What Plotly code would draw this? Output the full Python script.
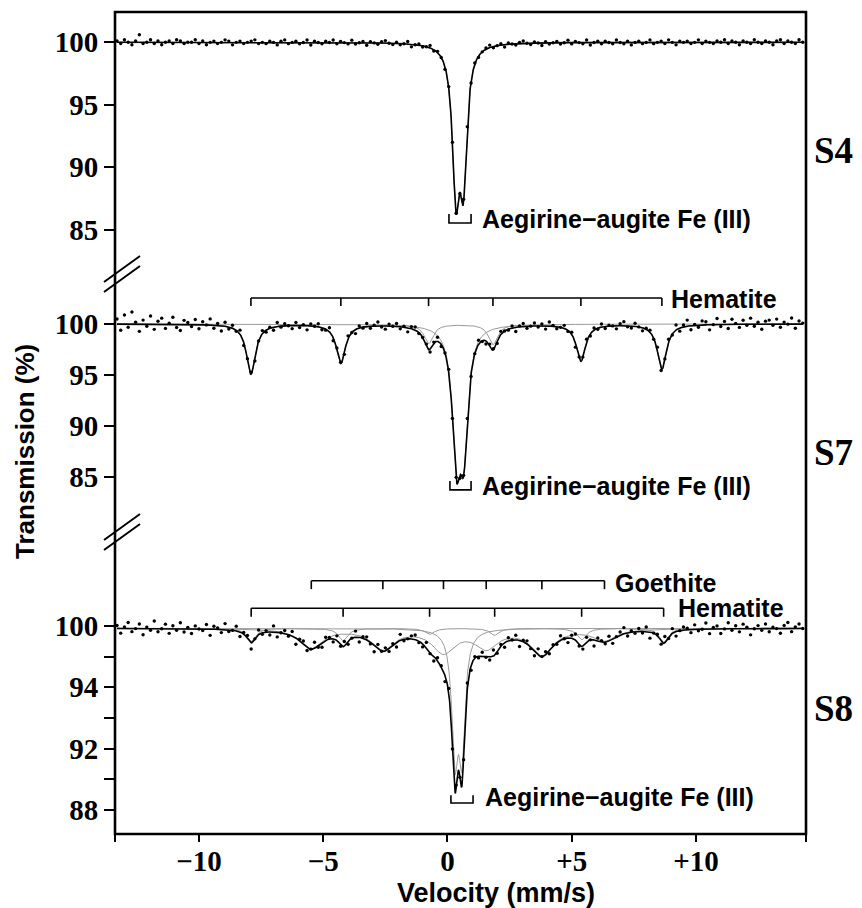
import numpy as np
import plotly.graph_objects as go

# ---------------- data ----------------
velocity_span = [-13.3, 14.3]   # mm/s, folded channel velocities

# S4 : Aegirine-augite Fe(III) doublet
s4_baseline = 100.0
s4_doublet_pos = [0.34, 0.64]
s4_doublet_depth = [11.2, 10.2]
s4_doublet_hwhm = [0.17, 0.17]
s4_scatter_tenths = [
    1, -1, 2, 0, -2, 1, 6, -1, 0, 2, -1, 1, -2, 0, 1, -1, 2, 1, -1, 0,
    0, 2, -1, 1, -2, 0, 1, -1, 0, 2, 1, -2, 0, 1, -1, 0, 1, 2, -1, 0,
    -1, 1, 0, -2, 1, 2, -1, 0, 1, -1, 0, 2, -2, 1, 0, -1, 1, 0, 2, -1,
    1, 0, -1, 2, -1, 0, 1, -2, 1, 0, -1, 1, 2, 0, -1, 1, -1, 0, 2, -2,
    0, 1, -1, 0, 2, -1, 1, 0, -2, 1, 0, 1, -1, 2, 0, -1, 1, -1, 0, 1,
    2, -1, 0, 1, -2, 1, 0, -1, 1, 2, 0, -1, 1, 0, -2, 1, -1, 0, 1, -1,
    0, 2, -1, 1, 0, -1, 2, -2, 0, 1, -1, 1, 0, -1, 2, 0, -1, 1, -2, 0,
    1, -1, 0, 2, -1, 0, 1, -1, 2, 0, -2, 1, 0, 1, -1, 0, 2, -1, 1, 0,
    -1, 1, 0, 2, -1, 1, 0, -2, 1, 0, -1, 2, 0, -1, 1, 0, -2, 1, 2, -1,
    1, 0, -1, 2, 0]

# S7 : hematite sextet + Aegirine-augite doublet
s7_baseline = 100.0
s7_hematite_pos = [-7.91, -4.29, -0.76, 1.83, 5.37, 8.63]
s7_hematite_depth = [4.9, 3.8, 1.9, 2.0, 3.6, 4.4]
s7_hematite_hwhm = [0.22, 0.22, 0.22, 0.22, 0.22, 0.22]
s7_doublet_pos = [0.36, 0.66]
s7_doublet_depth = [11.9, 11.0]
s7_doublet_hwhm = [0.20, 0.20]
s7_scatter_tenths = [
    5, -6, 9, -3, 12, 2, -7, 4, -2, 8, -5, 3, 6, -4, 1, 7, -3, -6, 4, 2,
    -2, 5, -4, 3, 0, 6, -3, 2, -5, 4,
    -2, 3, -1, 4, -3, 1, 2, -4, 0, 3, -2, 1, -3, 4, -1, 2, 0, -3, 3, -2,
    1, -4, 2, 0, 3, -2, -1, 4, -3, 2, 1, -2, 3, 0, -4, 2, -1, 3, -2, 1,
    4, -1, -3, 2, 0, 3, -2, 1, -4, 2, 3, -1, 0, 2, -3, 1, 4, -2, 0, 3,
    -1, 2, -3, 1, 3, -2, 0, 4, -1, -3, 2, 1, -2, 3, 0, -1, 2, -4, 1, 3,
    -2, 0, 3, -1, 2, -3, 4, 1, -2, 0, 3, -1, 2, -4, 1, 0, 3, -2, 2, -1,
    3, -2, 1, 0, -3, 2, 4, -1, -2, 3, 0, -3, 1, 2, -1, 4, -2, 0, 3, -1,
    5, -3, 2, 6, -4, 1, -2, 4, 3, -5, 0, 6, -2, 3, -4, 5, 1, -3, 4, -1,
    6, -2, 2, -5, 3, 4, -1, 5, -3, 2, 0, 6, -4, 3, 1]

# S8 : goethite + hematite sextets + Aegirine-augite doublet
s8_baseline = 99.85
s8_hematite_pos = [-7.9, -4.2, -0.72, 1.9, 5.4, 8.7]
s8_hematite_depth = [0.85, 0.8, 0.4, 0.45, 0.75, 0.9]
s8_hematite_hwhm = [0.22, 0.22, 0.22, 0.22, 0.22, 0.22]
s8_goethite_pos = [-5.48, -2.6, -0.16, 1.56, 3.8, 6.32]
s8_goethite_depth = [1.25, 1.3, 1.5, 1.2, 1.65, 0.75]
s8_goethite_hwhm = [0.55, 0.55, 0.55, 0.55, 0.55, 0.55]
s8_doublet_pos = [0.30, 0.58]
s8_doublet_depth = [7.8, 7.6]
s8_doublet_hwhm = [0.15, 0.15]
s8_scatter_tenths = [
    2, -3, 1, 4, -2, 0, 3, -4, 1, -1, 5, -2, 0, 3, -3, 2, -1, 4, -2, 1,
    -3, 2, 0, -1, 3, -4, 2, 1, -2, 4, -1, 0, 3, -3, 1, 2, -4, 0, 3, -1,
    1, -2, 4, -3, 0, 2, -1, 3, -4, 1, 2, -2, 0, 4, -1, -3, 2, 1, -2, 3,
    -1, 3, -2, 0, 4, -3, 1, 2, -1, -4, 3, 0, 2, -2, 1, -3, 4, -1, 0, 2,
    3, -1, -2, 4, 0, -3, 2, 1, -4, 3, -1, 2, 0, -2, 4, -3, 1, -1, 3, 0,
    -2, 4, -1, 1, -3, 2, 0, 3, -4, 1, 2, -1, -3, 4, 0, 2, -2, 1, -1, 3,
    0, -3, 2, 4, -1, -2, 3, 0, -4, 2, 1, -1, 3, -3, 0, 2, 4, -2, 1, -1,
    2, -1, 3, -4, 0, 1, -2, 4, -1, 3, -3, 0, 2, 1, -2, 3, -1, 0, 4, -3,
    1, 2, -3, 0, 4, -1, 2, -2, 3, 1, -4, 0, 2, -1, 3, -2, 1, 0, -3, 2,
    4, -2, 1, 3, 0]

x_tick_vals = [-10, -5, 0, 5, 10]
x_tick_text = ["\u221210", "\u22125", "0", "+5", "+10"]
y_ticks_s4 = [100, 95, 90, 85]
y_ticks_s7 = [100, 95, 90, 85]
y_ticks_s8 = [100, 98, 96, 94, 92, 90, 88]
y_text_s8 = ["100", "", "94", "", "92", "", "88"]

aeg_label = "Aegirine\u2212augite Fe (III)"

# ---------------- layout constants ----------------
PAGE_OFF = 8                      # default body margin of the html page
W, H = 862 - PAGE_OFF, 908 - PAGE_OFF
ML, MT = 115 - PAGE_OFF, 12 - PAGE_OFF
PW, PH = 691, 822
MR, MB = W - ML - PW, H - MT - PH


def pxx(px):   # screen pixel -> paper x
    return (px - PAGE_OFF - ML) / PW


def pxy(py):   # screen pixel -> paper y
    return (MT + PH - (py - PAGE_OFF)) / PH


def lorentz(x, pos, depth, hwhm):
    out = np.zeros_like(x)
    for c, d, g in zip(pos, depth, hwhm):
        out = out + d / (1.0 + ((x - c) / g) ** 2)
    return out


BLACK = "#000000"
GRAY = "#9a9a9a"
SERIF = "Liberation Serif"
SANS = "Liberation Sans"

fig = go.Figure()
xf = np.linspace(velocity_span[0], velocity_span[1], 2400)


def add_panel(yref, base, comps, scatter):
    xg = np.linspace(velocity_span[0], velocity_span[1], len(scatter))
    total_f = np.full_like(xf, base)
    total_g = np.full_like(xg, base)
    for pos, dep, hw in comps:
        comp = lorentz(xf, pos, dep, hw)
        total_f = total_f - comp
        total_g = total_g - lorentz(xg, pos, dep, hw)
        fig.add_trace(go.Scatter(x=xf, y=base - comp, yaxis=yref, mode="lines",
                                 line=dict(color=GRAY, width=1), hoverinfo="skip",
                                 showlegend=False))
    fig.add_trace(go.Scatter(x=xf, y=total_f, yaxis=yref, mode="lines",
                             line=dict(color=BLACK, width=1.6), showlegend=False))
    obs = total_g + 0.1 * np.array(scatter)
    fig.add_trace(go.Scatter(x=xg, y=obs, yaxis=yref, mode="markers",
                             marker=dict(color=BLACK, size=3.4), showlegend=False))


def sextet_bracket(yref, pos, level, tick):
    xs = [min(pos), max(pos), None]
    ys = [level, level, None]
    for c in pos:
        xs += [c, c, None]
        ys += [level, level - tick, None]
    fig.add_trace(go.Scatter(x=xs, y=ys, yaxis=yref, mode="lines",
                             line=dict(color=BLACK, width=1.6), hoverinfo="skip",
                             showlegend=False))


def doublet_bracket(yref, span, level, tick):
    xs = [span[0], span[0], span[1], span[1]]
    ys = [level + tick, level, level, level + tick]
    fig.add_trace(go.Scatter(x=xs, y=ys, yaxis=yref, mode="lines",
                             line=dict(color=BLACK, width=1.6), hoverinfo="skip",
                             showlegend=False))


# S4 (top, y3)
add_panel("y3", s4_baseline,
          [(s4_doublet_pos, s4_doublet_depth, s4_doublet_hwhm)], s4_scatter_tenths)
doublet_bracket("y3", [0.06, 0.95], 85.54, 0.72)

# S7 (middle, y2)
add_panel("y2", s7_baseline,
          [(s7_hematite_pos, s7_hematite_depth, s7_hematite_hwhm),
           (s7_doublet_pos, s7_doublet_depth, s7_doublet_hwhm)], s7_scatter_tenths)
sextet_bracket("y2", s7_hematite_pos, 102.55, 0.8)
doublet_bracket("y2", [0.10, 0.95], 83.73, 0.88)

# S8 (bottom, y)
add_panel("y", s8_baseline,
          [(s8_hematite_pos, s8_hematite_depth, s8_hematite_hwhm),
           (s8_goethite_pos, s8_goethite_depth, s8_goethite_hwhm),
           (s8_doublet_pos, s8_doublet_depth, s8_doublet_hwhm)], s8_scatter_tenths)
sextet_bracket("y", s8_goethite_pos, 102.95, 0.55)
sextet_bracket("y", s8_hematite_pos, 101.15, 0.55)
doublet_bracket("y", [0.14, 1.03], 88.45, 0.5)

lab_font = dict(family=SANS, size=25, color=BLACK, weight="bold")
ann = [
    dict(x=1.31, y=85.86, xref="x", yref="y3", text=aeg_label),
    dict(x=1.31, y=84.1, xref="x", yref="y2", text=aeg_label),
    dict(x=1.43, y=88.85, xref="x", yref="y", text=aeg_label),
    dict(x=8.91, y=102.45, xref="x", yref="y2", text="Hematite"),
    dict(x=6.66, y=102.8, xref="x", yref="y", text="Goethite"),
    dict(x=9.2, y=101.17, xref="x", yref="y", text="Hematite"),
]
annotations = []
for a in ann:
    a.update(xanchor="left", yanchor="middle", showarrow=False, font=lab_font)
    annotations.append(a)

s_font = dict(family=SERIF, size=37, color=BLACK, weight="bold")
for txt, py in [("S4", 150), ("S7", 452), ("S8", 708)]:
    annotations.append(dict(x=pxx(812), y=pxy(py), xref="paper", yref="paper",
                            text=txt, xanchor="left", yanchor="middle",
                            showarrow=False, font=s_font))

annotations.append(dict(x=pxx(25), y=pxy(452), xref="paper", yref="paper",
                        text="Transmission (%)", textangle=-90, showarrow=False,
                        xanchor="center", yanchor="middle",
                        font=dict(family=SANS, size=26, color=BLACK, weight="bold")))
annotations.append(dict(x=pxx(496), y=pxy(893), xref="paper", yref="paper",
                        text="Velocity (mm/s)", showarrow=False,
                        xanchor="center", yanchor="middle",
                        font=dict(family=SANS, size=27, color=BLACK, weight="bold")))

shapes = [dict(type="rect", xref="paper", yref="paper", x0=0, x1=1, y0=0, y1=1,
               line=dict(color=BLACK, width=2.6), layer="above")]
for cy in (274, 532):
    for off in (-5, 5):
        shapes.append(dict(type="line", xref="paper", yref="paper",
                           x0=pxx(104), y0=pxy(cy + 13 + off),
                           x1=pxx(140), y1=pxy(cy - 13 + off),
                           line=dict(color=BLACK, width=2)))

tick_font = dict(family=SERIF, size=29, color=BLACK, weight="bold")
xr = [-13.38, 14.43]
yaxis_common = dict(anchor="x", ticks="outside", ticklen=10, tickwidth=2,
                    tickcolor=BLACK, showline=False, showgrid=False,
                    zeroline=False, tickfont=tick_font, fixedrange=True)

fig.update_layout(
    width=W, height=H,
    margin=dict(l=ML, r=MR, t=MT, b=MB),
    paper_bgcolor="white", plot_bgcolor="white",
    showlegend=False,
    xaxis=dict(range=xr, tickvals=[xr[0]] + x_tick_vals + [xr[1]],
               ticktext=[""] + x_tick_text + [""],
               ticks="outside", ticklen=7, tickwidth=2, tickcolor=BLACK,
               ticklabelstandoff=-6,
               showline=False, showgrid=False, zeroline=False,
               tickfont=tick_font),
    yaxis=dict(domain=[0, pxy(545)], range=[86.43, 105.28],
               tickvals=y_ticks_s8, ticktext=y_text_s8, **yaxis_common),
    yaxis2=dict(domain=[pxy(520), pxy(290)], range=[80.78, 103.33],
                tickvals=y_ticks_s7, **yaxis_common),
    yaxis3=dict(domain=[pxy(265), 1], range=[82.18, 102.42],
                tickvals=y_ticks_s4, **yaxis_common),
    annotations=annotations,
    shapes=shapes,
)

fig.write_html("out.html")
